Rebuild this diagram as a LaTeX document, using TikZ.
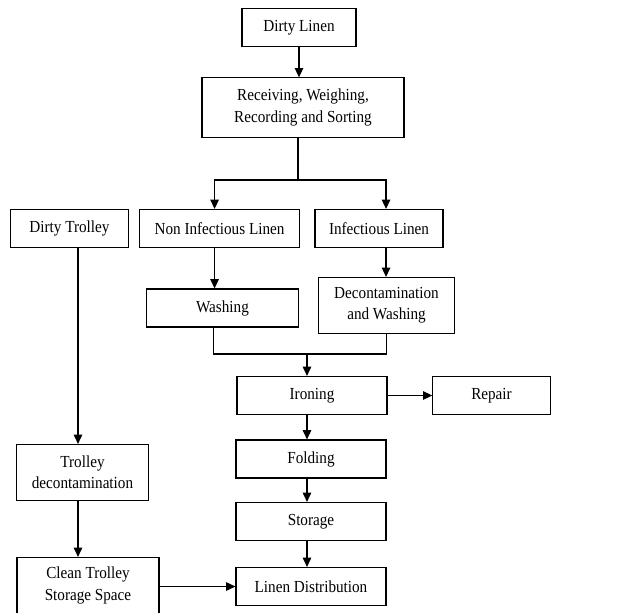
\documentclass[tikz,border=0pt]{standalone}
\usepackage{fontspec}
\setmainfont{Liberation Serif}[FakeStretch=0.9]
\usepackage{tikz}
\usetikzlibrary{arrows.meta,calc}

\begin{document}
\begin{tikzpicture}[x=0.025cm, y=-0.025cm,
    every node/.style={font=\fontsize{12}{15}\selectfont},
    stepbox/.style={draw, line width=0.8pt, align=center, inner sep=2pt,
                    minimum height=0.95cm},
    tallbox/.style={stepbox, minimum height=1.4cm},
    link/.style={line width=0.8pt},
    arr/.style={-{Triangle[length=2.3mm,width=2.1mm]}, line width=0.8pt}]
  \useasboundingbox (0,0) rectangle (638,612);
  % linen path
  \node[stepbox, minimum width=2.85cm] (dl)  at (299,27.5)  {Dirty Linen};
  \node[stepbox, minimum width=5.05cm, minimum height=1.48cm] (rec) at (303,107.5)
       {Receiving, Weighing,\\Recording and Sorting};
  \node[stepbox, minimum width=3.98cm] (ni)   at (219.5,228.5) {Non Infectious Linen};
  \node[stepbox, minimum width=3.2cm]  (inf)  at (379,228.5)   {Infectious Linen};
  \node[stepbox, minimum width=3.78cm] (wash) at (222.5,308)   {Washing};
  \node[tallbox, minimum width=3.38cm] (dec)  at (386.5,305.5) {Decontamination\\and Washing};
  \node[stepbox, minimum width=3.75cm] (iron) at (312,395.5)   {Ironing};
  \node[stepbox, minimum width=2.93cm] (rep)  at (491.5,395.5) {Repair};
  \node[stepbox, minimum width=3.75cm] (fold) at (311,459)     {Folding};
  \node[stepbox, minimum width=3.75cm] (sto)  at (311,521.5)   {Storage};
  \node[stepbox, minimum width=3.75cm] (ld)   at (311,586.5)   {Linen Distribution};
  % trolley path
  \node[stepbox, minimum width=2.93cm] (dt)  at (69.5,228.5) {Dirty Trolley};
  \node[tallbox, minimum width=3.28cm] (tdc) at (82.5,472.5) {Trolley\\decontamination};
  \node[tallbox, minimum width=3.55cm] (cts) at (88,585.5)   {Clean Trolley\\Storage Space};
  \coordinate (split) at (298,180);
  \coordinate (merge) at (307,354);
  \coordinate (tline) at (78,0);
  \draw[arr] (dl) -- (dl |- rec.north);
  \draw[link] (rec.south -| split) -- (split);
  \draw[arr] (split) -| ([xshift=-3.5]ni.north);
  \draw[arr] (split) -| ([xshift=5]inf.north);
  \draw[arr] ([xshift=-3.5]ni.south) -- ([xshift=-3.5]ni.south |- wash.north);
  \draw[arr] ([xshift=5]inf.south) -- ([xshift=5]inf.south |- dec.north);
  \draw[link] ([xshift=-6.5]wash.south) |- (merge) -| (dec.south);
  \draw[arr] (merge) -- (merge |- iron.north);
  \draw[arr] (iron) -- (rep);
  \draw[arr] (merge |- iron.south) -- (merge |- fold.north);
  \draw[arr] (merge |- fold.south) -- (merge |- sto.north);
  \draw[arr] (merge |- sto.south) -- (merge |- ld.north);
  \draw[arr] (dt.south -| tline) -- (tdc.north -| tline);
  \draw[arr] (tdc.south -| tline) -- (cts.north -| tline);
  \draw[arr] (cts.east |- ld) -- (ld);
\end{tikzpicture}
\end{document}
